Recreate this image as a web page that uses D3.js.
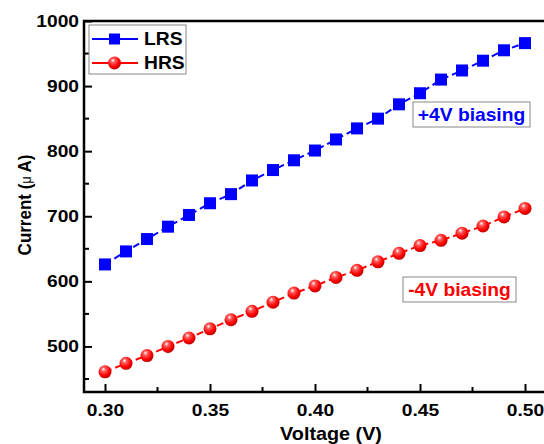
<!DOCTYPE html>
<html>
<head>
<meta charset="utf-8">
<script src="https://cdn.jsdelivr.net/npm/d3@7"></script>
<style>
  body { margin: 0; background: #fff; }
  svg { display: block; font-family: "Liberation Sans", Arial, sans-serif; }
</style>
</head>
<body>
<div id="graph"></div>
<script>
// data
const voltage = [0.30, 0.31, 0.32, 0.33, 0.34, 0.35, 0.36, 0.37, 0.38, 0.39, 0.40,
                 0.41, 0.42, 0.43, 0.44, 0.45, 0.46, 0.47, 0.48, 0.49, 0.50];
const lrs = [626, 646, 665, 684, 702, 720, 734, 755, 771, 786, 801,
             818, 835, 850, 872, 889, 910, 924, 939, 955, 966];
const hrs = [461, 474, 486, 500, 513, 527, 541, 554, 568, 582, 593,
             606, 617, 630, 643, 655, 663, 674, 685, 699, 712];
const xTicks = [0.30, 0.35, 0.40, 0.45, 0.50];
const yTicks = [500, 600, 700, 800, 900, 1000];

const width = 544, height = 444;
const mLeft = 84, mTop = 21, mRight = 546, mBottom = 392;
const stretch = 1.1;   // the original figure text is a bit wide

const svg = d3.select('#graph').append('svg')
  .attr('width', width).attr('height', height);

const defs = svg.append('defs');
const grad = defs.append('radialGradient').attr('id', 'ball')
  .attr('cx', '40%').attr('cy', '35%').attr('r', '65%').attr('fx', '38%').attr('fy', '30%');
grad.append('stop').attr('offset', '0%').attr('stop-color', '#ffffff');
grad.append('stop').attr('offset', '25%').attr('stop-color', '#ff6060');
grad.append('stop').attr('offset', '70%').attr('stop-color', '#ff0000');
grad.append('stop').attr('offset', '100%').attr('stop-color', '#c00000');

const xScale = d3.scaleLinear().domain([0.29, 0.51]).range([mLeft, mRight]);
const yScale = d3.scaleLinear().domain([430, 1000]).range([mBottom, mTop]);

// axes, ticks inside
const xAxis = d3.axisBottom(xScale).tickValues(xTicks).tickFormat(d3.format('.2f'))
  .tickSizeInner(-8).tickSizeOuter(0).tickPadding(13);
const yAxis = d3.axisLeft(yScale).tickValues(yTicks).tickFormat(d3.format('d'))
  .tickSizeInner(-8).tickSizeOuter(0).tickPadding(5);

const gx = svg.append('g').attr('transform', `translate(0,${mBottom})`).call(xAxis);
const gy = svg.append('g').attr('transform', `translate(${mLeft},0)`).call(yAxis);

// minor ticks
const xMinor = d3.range(0.325, 0.51, 0.05);
const yMinor = d3.range(450, 1000, 100);
svg.append('g').selectAll('line').data(xMinor).enter().append('line')
  .attr('x1', d => xScale(d)).attr('x2', d => xScale(d))
  .attr('y1', mBottom).attr('y2', mBottom - 5)
  .attr('stroke', '#000').attr('stroke-width', 2);
svg.append('g').selectAll('line').data(yMinor).enter().append('line')
  .attr('x1', mLeft).attr('x2', mLeft + 5)
  .attr('y1', d => yScale(d)).attr('y2', d => yScale(d))
  .attr('stroke', '#000').attr('stroke-width', 2);

const tickStretch = 1.2;
[gx, gy].forEach(g => {
  g.select('.domain').remove();
  g.selectAll('.tick line').attr('stroke', '#000').attr('stroke-width', 2);
  g.selectAll('.tick text').attr('fill', '#000')
    .style('font-size', '16px').style('font-weight', 'bold')
    .each(function() {
      const t = d3.select(this);
      t.attr('x', (+t.attr('x') || 0) / tickStretch)
        .attr('transform', `scale(${tickStretch},1)`);
    });
});

// frame
svg.append('path')
  .attr('d', `M${mRight},${mTop}H${mLeft}V${mBottom}H${mRight}`)
  .attr('fill', 'none').attr('stroke', '#000').attr('stroke-width', 2.5);

// lines
const line = d3.line().x((d, i) => xScale(voltage[i])).y(d => yScale(d));
svg.append('path').datum(lrs).attr('d', line)
  .attr('fill', 'none').attr('stroke', '#0000ff').attr('stroke-width', 2)
  .attr('stroke-dasharray', '7,4');
svg.append('path').datum(hrs).attr('d', line)
  .attr('fill', 'none').attr('stroke', '#ff0000').attr('stroke-width', 2)
  .attr('stroke-dasharray', '7,4');

// markers
svg.append('g').selectAll('rect').data(lrs).enter().append('rect')
  .attr('x', (d, i) => xScale(voltage[i]) - 6)
  .attr('y', d => yScale(d) - 6)
  .attr('width', 12).attr('height', 12)
  .attr('fill', '#0000ff');
svg.append('g').selectAll('circle').data(hrs).enter().append('circle')
  .attr('cx', (d, i) => xScale(voltage[i]))
  .attr('cy', d => yScale(d))
  .attr('r', 6.5)
  .attr('fill', 'url(#ball)');

// helper for wide text
function wideText(x, y, txt, size, color, anchor) {
  return svg.append('text')
    .attr('transform', `translate(${x},${y}) scale(${stretch},1)`)
    .attr('text-anchor', anchor || 'start').attr('fill', color || '#000')
    .style('font-size', size + 'px').style('font-weight', 'bold').text(txt);
}

// legend
const legend = svg.append('g');
legend.append('rect').attr('x', 89).attr('y', 25).attr('width', 97).attr('height', 49)
  .attr('fill', '#fff').attr('stroke', '#888').attr('stroke-width', 1);
const entries = [
  {name: 'LRS', color: '#0000ff', y: 39, shape: 'square'},
  {name: 'HRS', color: '#ff0000', y: 63, shape: 'circle'}
];
entries.forEach(e => {
  legend.append('line').attr('x1', 92).attr('x2', 138).attr('y1', e.y).attr('y2', e.y)
    .attr('stroke', e.color).attr('stroke-width', 2);
  if (e.shape === 'square') {
    legend.append('rect').attr('x', 109).attr('y', e.y - 5.5).attr('width', 11).attr('height', 11)
      .attr('fill', e.color);
  } else {
    legend.append('circle').attr('cx', 114.5).attr('cy', e.y).attr('r', 6.5).attr('fill', 'url(#ball)');
  }
  wideText(144, e.y + 6, e.name, 17.5);
});

// annotations
function note(x, y, w, h, txt, color) {
  svg.append('rect').attr('x', x).attr('y', y).attr('width', w).attr('height', h)
    .attr('fill', '#fff').attr('stroke', '#888').attr('stroke-width', 1);
  wideText(x + w / 2, y + h / 2 + 6.5, txt, 17.5, color, 'middle');
}
note(413, 102, 117, 25, '+4V biasing', '#0000ff');
note(403, 277, 113, 25, '-4V biasing', '#ff0000');

// axis titles
wideText(331, 440, 'Voltage (V)', 18, '#000', 'middle');
const yt = svg.append('text')
  .attr('transform', `translate(31,205) scale(${stretch},1) rotate(-90)`)
  .attr('text-anchor', 'middle').style('font-size', '17px').style('font-weight', 'bold');
yt.append('tspan').text('Current (');
yt.append('tspan').style('font-size', '13px').style('font-weight', 'normal').text('μ ');
yt.append('tspan').text('A)');
</script>
</body>
</html>
